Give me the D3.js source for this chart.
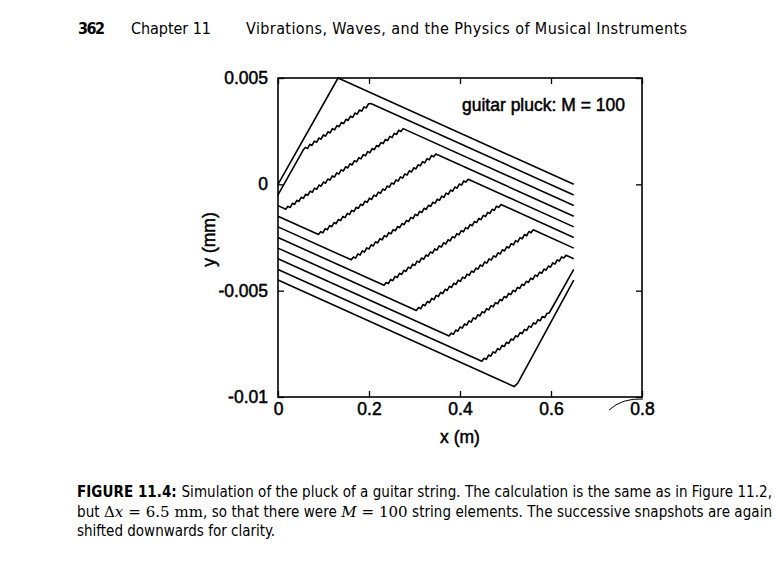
<!DOCTYPE html>
<meta charset="utf-8">
<style>
    body {
        margin: 0;
        background: #fff;
    }

    svg {
        display: block;
    }
</style>
<div id="container"></div>
<script src="https://cdn.jsdelivr.net/npm/d3@7"></script>
<script>
    const width = 775;
    const height = 575;

    // Axis ticks
    const xTicks = [0, 0.2, 0.4, 0.6, 0.8];
    const xTickLabels = ["0", "0.2", "0.4", "0.6", "0.8"];
    const yTicks = [-0.01, -0.005, 0, 0.005];
    const yTickLabels = ["-0.01", "-0.005", "0", "0.005"];

    // String snapshots, vertices as [x (m), y (m)].
    // Every snapshot is shifted 0.5 mm down from the one before it.
    const snap0 = [[0, 0], [0.132, 0.005], [0.65, 0]];
    const snap1 = [[0, -0.0005], [0.055, 0.0016], [0.204, 0.0038], [0.65, -0.0005]];
    const snap2 = [[0, -0.001], [0.017, -0.00117], [0.275, 0.00262], [0.65, -0.001]];
    const snap3 = [[0, -0.0015], [0.089, -0.00236], [0.347, 0.00143], [0.65, -0.0015]];
    const snap4 = [[0, -0.002], [0.161, -0.00355], [0.418, 0.00024], [0.65, -0.002]];
    const snap5 = [[0, -0.0025], [0.233, -0.00475], [0.49, -0.00095], [0.65, -0.0025]];
    const snap6 = [[0, -0.003], [0.304, -0.00593], [0.561, -0.00214], [0.65, -0.003]];
    const snap7 = [[0, -0.0035], [0.376, -0.00713], [0.633, -0.00333], [0.65, -0.0035]];
    const snap8 = [[0, -0.004], [0.448, -0.00832], [0.596, -0.00605], [0.65, -0.004]];
    const snap9 = [[0, -0.0045], [0.519, -0.00951], [0.527, -0.00935], [0.65, -0.0045]];
    const snapshots = [snap0, snap1, snap2, snap3, snap4, snap5, snap6, snap7, snap8, snap9];

    // which segment (vertex i -> i+1) shows the numerical ripple, -1 = none
    const rippleSeg = [-1, 1, 1, 1, 1, 1, 1, 1, 1, 1];

    const legendText = "guitar pluck: M = 100";

    const svg = d3.select("#container").append("svg")
        .attr("width", width)
        .attr("height", height)
        .style("background", "#fff");

    const x = d3.scaleLinear().domain([0, 0.8]).range([278, 642]);
    const y = d3.scaleLinear().domain([-0.01, 0.005]).range([397, 78]);

    const tickFont = '"Liberation Sans", Arial, sans-serif';
    const chartSize = "17.5px";

    // frame
    svg.append("rect")
        .attr("x", x(0)).attr("y", y(0.005))
        .attr("width", x(0.8) - x(0)).attr("height", y(-0.01) - y(0.005))
        .attr("fill", "none").attr("stroke", "#000").attr("stroke-width", 1.6);

    function styleAxis(g) {
        g.select(".domain").remove();
        g.selectAll(".tick line").attr("stroke", "#000").attr("stroke-width", 1.3);
        g.selectAll(".tick text")
            .attr("fill", "#000")
            .style("font-family", tickFont)
            .style("font-size", chartSize)
            .attr("stroke", "#000").attr("stroke-width", 0.5);
    }

    svg.append("g")
        .attr("transform", `translate(0,${y(-0.01)})`)
        .call(d3.axisBottom(x).tickValues(xTicks).tickSize(-6).tickPadding(6)
            .tickFormat((d, i) => xTickLabels[i]))
        .call(styleAxis);

    svg.append("g")
        .attr("transform", `translate(0,${y(0.005)})`)
        .call(d3.axisTop(x).tickValues(xTicks).tickSize(-6).tickFormat(""))
        .call(styleAxis);

    svg.append("g")
        .attr("transform", `translate(${x(0)},0)`)
        .call(d3.axisLeft(y).tickValues(yTicks).tickSize(-6).tickPadding(10)
            .tickFormat((d, i) => yTickLabels[i]))
        .call(styleAxis);

    svg.append("g")
        .attr("transform", `translate(${x(0.8)},0)`)
        .call(d3.axisRight(y).tickValues(yTicks).tickSize(-6).tickFormat(""))
        .call(styleAxis);

    // axis titles
    svg.append("text")
        .attr("x", (x(0) + x(0.8)) / 2).attr("y", 443)
        .attr("text-anchor", "middle")
        .style("font-family", tickFont).style("font-size", chartSize)
        .attr("stroke", "#000").attr("stroke-width", 0.5)
        .text("x (m)");

    svg.append("text")
        .attr("transform", `translate(215,${(y(0.005) + y(-0.01)) / 2 + 2}) rotate(-90)`)
        .attr("text-anchor", "middle")
        .style("font-family", tickFont).style("font-size", chartSize)
        .attr("stroke", "#000").attr("stroke-width", 0.5)
        .text("y (mm)");

    // legend label
    svg.append("text")
        .attr("x", 462).attr("y", 111)
        .style("font-family", tickFont).style("font-size", chartSize)
        .attr("stroke", "#000").attr("stroke-width", 0.5)
        .text(legendText);

    // build the path for one snapshot; the rippled segment gets a small
    // staircase stroke like the plotted output
    const rippleStep = 2.2;
    const rippleAmp = 1.35;

    function snapshotPoints(pts, seg) {
        const out = [];
        pts.forEach((p, i) => {
            const px = x(p[0]), py = y(p[1]);
            out.push([px, py]);
            if (i === seg) {
                const q = pts[i + 1];
                const qx = x(q[0]), qy = y(q[1]);
                const n = Math.floor((qx - px) / rippleStep);
                for (let k = 1; k < n; k++) {
                    const t = k / n;
                    out.push([px + t * (qx - px), py + t * (qy - py) + (k % 2 ? -rippleAmp : rippleAmp)]);
                }
            }
        });
        return out;
    }

    const line = d3.line();

    svg.append("g")
        .selectAll("path")
        .data(snapshots)
        .join("path")
        .attr("d", (d, i) => line(snapshotPoints(d, rippleSeg[i])))
        .attr("fill", "none")
        .attr("stroke", "#000")
        .attr("stroke-width", 1.6)
        .attr("stroke-linejoin", "round");

    // scan mark beside the 0.8 label
    svg.append("path")
        .attr("d", `M${x(0.8) - 33},${y(-0.01) + 13} Q${x(0.8) - 20},${y(-0.01) + 1} ${x(0.8) + 1},${y(-0.01) + 2}`)
        .attr("fill", "none").attr("stroke", "#000").attr("stroke-width", 1);

    // page header
    const pageFont = '"DejaVu Sans Condensed", "DejaVu Sans", sans-serif';
    const header = svg.append("g")
        .style("font-family", pageFont).style("font-size", "16px").attr("fill", "#000");
    header.append("text").attr("x", 78).attr("y", 34).style("font-weight", "bold")
        .attr("textLength", 27).text("362");
    header.append("text").attr("x", 131).attr("y", 34)
        .attr("textLength", 80).text("Chapter 11");
    header.append("text").attr("x", 246).attr("y", 34)
        .attr("textLength", 441).text("Vibrations, Waves, and the Physics of Musical Instruments");

    // caption
    const serif = '"DejaVu Serif", "Liberation Serif", serif';
    const cap = svg.append("g")
        .style("font-family", pageFont).style("font-size", "15px").attr("fill", "#000");

    const c1 = cap.append("text").attr("x", 77).attr("y", 497).attr("textLength", 695);
    c1.append("tspan").style("font-weight", "bold").text("FIGURE 11.4: ");
    c1.append("tspan").text("Simulation of the pluck of a guitar string. The calculation is the same as in Figure 11.2,");

    const c2 = cap.append("text").attr("x", 77).attr("y", 517).attr("textLength", 695);
    c2.append("tspan").text("but ");
    c2.append("tspan").style("font-family", serif).text("Δ");
    c2.append("tspan").style("font-family", serif).style("font-style", "italic").text("x");
    c2.append("tspan").style("font-family", serif).text(" = 6.5 mm");
    c2.append("tspan").text(", so that there were ");
    c2.append("tspan").style("font-family", serif).style("font-style", "italic").text("M");
    c2.append("tspan").style("font-family", serif).text(" = 100");
    c2.append("tspan").text(" string elements. The successive snapshots are again");

    cap.append("text").attr("x", 77).attr("y", 536)
        .text("shifted downwards for clarity.");
</script>
